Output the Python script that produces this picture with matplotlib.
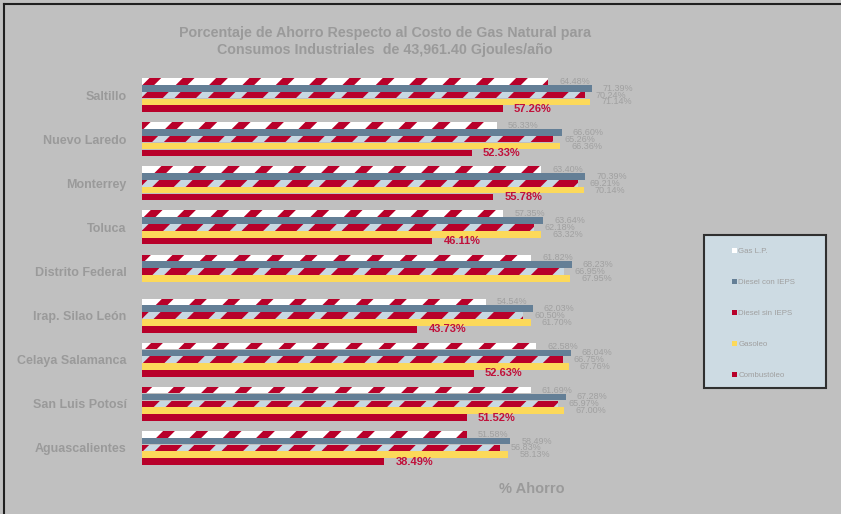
import numpy as np
import matplotlib
matplotlib.use('Agg')
import matplotlib.pyplot as plt
from matplotlib.patches import Rectangle
from matplotlib.lines import Line2D

plt.rcParams['font.family'] = ['Liberation Sans', 'DejaVu Sans']
plt.rcParams['hatch.linewidth'] = 6.0

cities = ['Saltillo', 'Nuevo Laredo', 'Monterrey', 'Toluca', 'Distrito Federal',
          'Irap. Silao León', 'Celaya Salamanca', 'San Luis Potosí', 'Aguascalientes']
series = ['Gas L.P.', 'Diesel con IEPS', 'Diesel sin IEPS', 'Gasoleo', 'Combustóleo']
gas_lp = [64.48, 56.33, 63.40, 57.35, 61.82, 54.54, 62.58, 61.69, 51.58]
diesel_con = [71.39, 66.60, 70.39, 63.64, 68.23, 62.03, 68.04, 67.28, 58.49]
diesel_sin = [70.24, 65.26, 69.21, 62.18, 66.95, 60.50, 66.75, 65.97, 56.83]
gasoleo = [71.14, 66.36, 70.14, 63.32, 67.95, 61.70, 67.76, 67.00, 58.13]
combustoleo = [57.26, 52.33, 55.78, 46.11, np.nan, 43.73, 52.63, 51.52, 38.49]

bg = '#c0c0c0'
red = '#b8002a'
txt_gray = '#a0a0a0'
lbl_gray = '#9a9a9a'

fig = plt.figure(figsize=(8.41, 5.14), dpi=100, facecolor=bg)
# axes: x=0 at 142px, 6.3 px per %, groups centered 95..448 px
ax = fig.add_axes([142/841, 44/514, 504/841, 397/514])
ax.set_facecolor('none')
ax.set_xlim(0, 80)
ax.set_ylim(8.5, -0.5)

y = np.arange(len(cities))
h = 0.155
styles = [
    dict(facecolor='white', edgecolor=red, hatch='/'),
    dict(facecolor='#647f96', edgecolor='none'),
    dict(facecolor=red, edgecolor='#c8d8e2', hatch='/'),
    dict(facecolor='#fcd95a', edgecolor='none'),
    dict(facecolor=red, edgecolor='none'),
]
data = [gas_lp, diesel_con, diesel_sin, gasoleo, combustoleo]
handles = []
for k, (vals, st) in enumerate(zip(data, styles)):
    pos = y + (k - 2) * h
    b = ax.barh(pos, vals, height=h * 0.97, linewidth=0, label=series[k], **st)
    handles.append(b)
    for p, v in zip(pos, vals):
        if np.isnan(v):
            continue
        if k == 4:
            ax.annotate(f'{v:.2f}%', (v, p), xytext=(8, 0), textcoords='offset points',
                        va='center', ha='left', fontsize=8, fontweight='bold', color='#c0103a')
        else:
            ax.annotate(f'{v:.2f}%', (v, p), xytext=(8, 0), textcoords='offset points',
                        va='center', ha='left', fontsize=6.5, color=txt_gray)

ax.set_yticks(y)
ax.set_yticklabels(cities, fontsize=9, fontweight='bold', color=lbl_gray)
ax.tick_params(axis='y', length=0, pad=11)
ax.set_xticks([])
for s in ax.spines.values():
    s.set_visible(False)

fig.text(385/841, 1 - 33/514, 'Porcentaje de Ahorro Respecto al Costo de Gas Natural para',
         ha='center', va='center', fontsize=10.3, fontweight='bold', color=lbl_gray)
fig.text(385/841, 1 - 50/514, 'Consumos Industriales  de 43,961.40 Gjoules/año',
         ha='center', va='center', fontsize=10.3, fontweight='bold', color=lbl_gray)
fig.text(532/841, 1 - 489/514, '% Ahorro', ha='center', va='center',
         fontsize=10.5, fontweight='bold', color=lbl_gray)

# legend box
fig.patches.append(Rectangle((704/841, 1 - 388/514), 122/841, 153/514, transform=fig.transFigure,
                             facecolor='#cddbe3', edgecolor='#303030', linewidth=1.5, zorder=2))
leg = fig.legend(handles=handles, labels=series, loc='upper left',
                 bbox_to_anchor=(728/841, 1 - 244/514), frameon=False, fontsize=5.7,
                 handlelength=0.6, handleheight=0.6, handletextpad=0.2,
                 labelspacing=3.0, borderpad=0)
for t in leg.get_texts():
    t.set_color(txt_gray)
leg.set_zorder(3)

# outer border (top and left)
fig.lines.append(Line2D([4/841, 4/841], [0, 1 - 4/514], transform=fig.transFigure, color='#202020', lw=1.5))
fig.lines.append(Line2D([4/841, 1], [1 - 4/514, 1 - 4/514], transform=fig.transFigure, color='#202020', lw=1.5))

fig.savefig('out.png', dpi=100, facecolor=bg)
